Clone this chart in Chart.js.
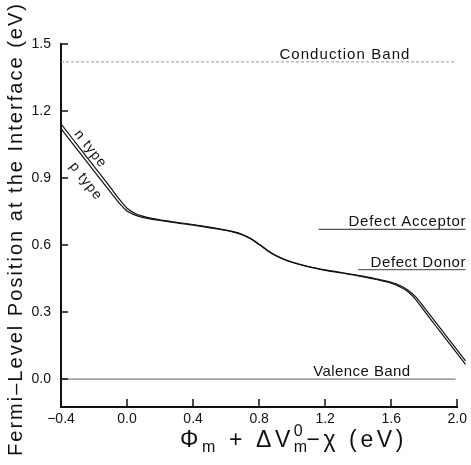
<!DOCTYPE html>
<html>
<head>
<meta charset="utf-8">
<script src="https://cdn.jsdelivr.net/npm/chart.js@4.4.1/dist/chart.umd.min.js"></script>
<style>
  html, body { margin: 0; padding: 0; background: #fff; }
  canvas { display: block; }
</style>
</head>
<body>
<canvas id="fermiChart" width="471" height="465"></canvas>
<script>
// x = Phi_m + dV_m^0 - chi (eV)
const xValues = [-0.4, -0.3, -0.2, -0.1, -0.05, 0.0, 0.05, 0.1, 0.2, 0.3, 0.4, 0.5, 0.6, 0.65, 0.7, 0.75, 0.8, 0.85, 0.9, 0.95, 1.0, 1.1, 1.2, 1.3, 1.4, 1.5, 1.6, 1.65, 1.7, 1.75, 1.8, 1.85, 1.9, 1.98, 2.05];
const nType = [1.142, 1.047, 0.952, 0.857, 0.808, 0.765, 0.741, 0.728, 0.713, 0.702, 0.692, 0.680, 0.667, 0.659, 0.647, 0.629, 0.604, 0.577, 0.554, 0.537, 0.524, 0.504, 0.489, 0.477, 0.464, 0.450, 0.433, 0.420, 0.399, 0.367, 0.320, 0.273, 0.225, 0.149, 0.082];
const pType = [1.121, 1.026, 0.931, 0.837, 0.790, 0.752, 0.734, 0.723, 0.710, 0.699, 0.689, 0.677, 0.665, 0.657, 0.645, 0.627, 0.602, 0.575, 0.552, 0.535, 0.522, 0.502, 0.487, 0.475, 0.462, 0.447, 0.429, 0.414, 0.392, 0.355, 0.305, 0.257, 0.209, 0.133, 0.066];

const xTicks = [-0.4, 0.0, 0.4, 0.8, 1.2, 1.6, 2.0];
const yTicks = [0.0, 0.3, 0.6, 0.9, 1.2, 1.5];

// energy levels drawn as horizontal lines
const levelNames = ['Conduction Band', 'Defect Acceptor', 'Defect Donor', 'Valence Band'];
const levelValues = [1.42, 0.67, 0.49, 0.0];
const levelFrom = [-0.4, 1.16, 1.40, -0.4];
const levelTo = [1.99, 2.05, 2.05, 1.99];

const levelStyles = [
    { color: '#9a9a9a', width: 1, dash: [3, 2] },
    { color: '#555', width: 1.2, dash: [] },
    { color: '#666', width: 1.2, dash: [] },
    { color: '#808080', width: 1.2, dash: [] }
];
// right edge (in x units) and pixel width of each level label
const levelLabelRight = [1.71, 2.05, 2.05, 1.715];
const levelLabelWidth = [130, 117, 95, 97];

const FONT = '"Liberation Sans", Arial, sans-serif';

function spacedText(ctx, text, x, y, width) {
    ctx.letterSpacing = '0px';
    const w = ctx.measureText(text).width;
    const sp = Math.max(0, (width - w) / (text.length - 1));
    ctx.letterSpacing = sp + 'px';
    ctx.fillText(text, x, y);
    ctx.letterSpacing = '0px';
}

const curveData = arr => xValues.map((x, i) => ({ x: x, y: arr[i] }));

const datasets = [
    { label: 'n type', data: curveData(nType), borderColor: '#111', borderWidth: 1.2, pointRadius: 0, tension: 0.4, cubicInterpolationMode: 'monotone', clip: false },
    { label: 'p type', data: curveData(pType), borderColor: '#111', borderWidth: 1.2, pointRadius: 0, tension: 0.4, cubicInterpolationMode: 'monotone', clip: false }
];
levelNames.forEach((name, i) => {
    datasets.push({
        label: name,
        data: [{ x: levelFrom[i], y: levelValues[i] }, { x: levelTo[i], y: levelValues[i] }],
        borderColor: levelStyles[i].color,
        borderWidth: levelStyles[i].width,
        borderDash: levelStyles[i].dash,
        pointRadius: 0,
        clip: false
    });
});

const annotatePlugin = {
    id: 'annotate',
    afterDraw(chart) {
        const ctx = chart.ctx;
        const xs = chart.scales.x;
        const ys = chart.scales.y;
        const area = chart.chartArea;
        ctx.save();
        ctx.fillStyle = '#111';
        ctx.strokeStyle = '#111';

        // inward tick marks
        ctx.lineWidth = 1.5;
        ctx.beginPath();
        xTicks.forEach(v => {
            const px = Math.round(xs.getPixelForValue(v));
            ctx.moveTo(px, area.bottom);
            ctx.lineTo(px, area.bottom - 8);
        });
        yTicks.forEach(v => {
            const py = Math.round(ys.getPixelForValue(v));
            ctx.moveTo(area.left, py);
            ctx.lineTo(area.left + 7, py);
        });
        ctx.stroke();

        // level labels
        ctx.font = '15px ' + FONT;
        ctx.textAlign = 'left';
        ctx.textBaseline = 'alphabetic';
        levelNames.forEach((name, i) => {
            const right = xs.getPixelForValue(levelLabelRight[i]);
            const y = ys.getPixelForValue(levelValues[i]) - 3;
            spacedText(ctx, name, right - levelLabelWidth[i], y, levelLabelWidth[i]);
        });

        // n type / p type labels along the curves
        const a = { x: xs.getPixelForValue(-0.4), y: ys.getPixelForValue(pType[0]) };
        const b = { x: xs.getPixelForValue(-0.1), y: ys.getPixelForValue(pType[3]) };
        const ang = Math.atan2(b.y - a.y, b.x - a.x);
        ctx.font = '14px ' + FONT;
        ctx.textAlign = 'center';
        ctx.textBaseline = 'middle';
        [['n type', -0.222, 1.03], ['p type', -0.25, 0.885]].forEach(([t, x, y]) => {
            ctx.save();
            ctx.translate(xs.getPixelForValue(x), ys.getPixelForValue(y));
            ctx.rotate(ang);
            ctx.letterSpacing = '1px';
            ctx.fillText(t, 0, 0);
            ctx.restore();
        });

        // y axis title
        ctx.save();
        ctx.translate(16, 230);
        ctx.rotate(-Math.PI / 2);
        ctx.font = '20px ' + FONT;
        ctx.textAlign = 'left';
        ctx.textBaseline = 'middle';
        spacedText(ctx, 'Fermi\u2013Level Position at the Interface (eV)', -226, 0, 452);
        ctx.restore();

        // x axis title: Phi_m + dV_m^0 - chi (eV)
        const big = '23px ' + FONT;
        const small = '16px ' + FONT;
        const base = 447;
        const parts = [
            { t: '\u03A6', f: big, dy: 0 },
            { t: 'm', f: small, dy: 5 },
            { t: ' + \u0394V', f: big, dy: 0 },
            { t: '0', f: small, dy: -11, stack: 'm' },
            { t: '\u2212\u03C7 (eV)', f: big, dy: 0 }
        ];
        ctx.textAlign = 'left';
        ctx.textBaseline = 'alphabetic';
        let total = 0, nChars = 0;
        parts.forEach(p => { ctx.font = p.f; p.w = ctx.measureText(p.t).width; total += p.w; nChars += p.t.length; });
        const sp = Math.max(0, (227 - total) / nChars);
        let x = 180;
        parts.forEach(p => {
            ctx.font = p.f;
            ctx.letterSpacing = sp + 'px';
            ctx.fillText(p.t, x, base + p.dy);
            if (p.stack) ctx.fillText(p.stack, x, base + 5);
            x += p.w + sp * p.t.length;
        });
        ctx.letterSpacing = '0px';

        ctx.restore();
    }
};

const ctx = document.getElementById('fermiChart').getContext('2d');
const fermiChart = new Chart(ctx, {
    type: 'line',
    data: { datasets: datasets },
    plugins: [annotatePlugin],
    options: {
        responsive: false,
        animation: false,
        layout: { padding: { top: 44, right: 9, left: 0, bottom: 0 } },
        plugins: {
            legend: { display: false },
            tooltip: { enabled: false }
        },
        scales: {
            x: {
                type: 'linear',
                afterBuildTicks: scale => {
                    scale.ticks = xTicks.map(v => ({ value: v }));
                    scale.min = -0.4;
                    scale.max = 2.0;
                },
                afterFit: scale => { scale.height = 58; },
                grid: { display: true, drawOnChartArea: false, drawTicks: false },
                border: { display: true, color: '#111', width: 2 },
                ticks: {
                    padding: 4,
                    color: '#111',
                    font: { family: FONT, size: 14 },
                    maxRotation: 0,
                    callback: v => (v < 0 ? '\u2212' + Math.abs(v).toFixed(1) : v.toFixed(1))
                }
            },
            y: {
                type: 'linear',
                afterBuildTicks: scale => {
                    scale.ticks = yTicks.map(v => ({ value: v }));
                    scale.min = -0.125;
                    scale.max = 1.5;
                },
                afterFit: scale => { scale.width = 61; },
                grid: { display: true, drawOnChartArea: false, drawTicks: false },
                border: { display: true, color: '#111', width: 2 },
                ticks: {
                    padding: 10,
                    color: '#111',
                    font: { family: FONT, size: 14 },
                    callback: v => v.toFixed(1)
                }
            }
        }
    }
});
</script>
</body>
</html>
